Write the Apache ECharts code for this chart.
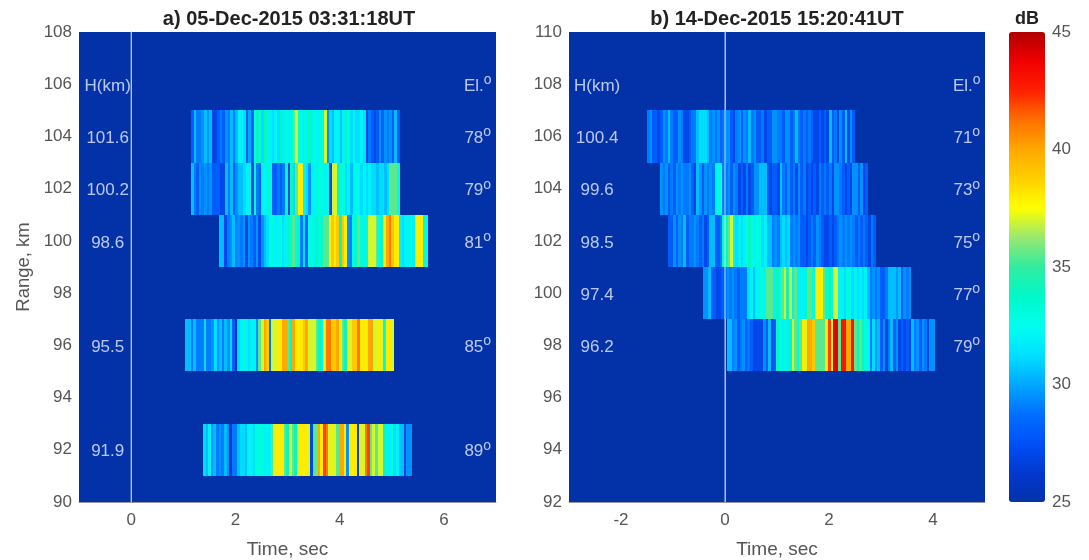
<!DOCTYPE html>
<html>
<head>
<meta charset="utf-8">
<style>html,body{margin:0;padding:0;background:#fff}#c{width:1089px;height:560px;filter:blur(0.5px)}</style>
<script src="https://cdn.jsdelivr.net/npm/echarts@6/dist/echarts.min.js"></script>
</head>
<body>
<div id="c"></div>
<script>
const titles = ['a) 05-Dec-2015 03:31:18UT', 'b) 14-Dec-2015 15:20:41UT'];
const timeTicksA = [0, 2, 4, 6];
const timeTicksB = [-2, 0, 2, 4];
const dbTicks = [25, 30, 35, 40, 45];

const a104 = [28,30.5,29,29,29.5,30.5,29.5,30.5,27,27, 28,29,28,29.5,29,30.5,29,30.5,32,32, 31.2,28,30,28,33,34,33,31.2,34,32, 32,31.2,32,31.2,34,32,33,32,33,35.5, 37,33,32,33,32,34,32,33,32,33, 33,37,29.5,31.2,30.5,32,32,30.5,32,34, 33,31.2,32,31.2,31.2,32,31.2,27,29,28, 27,28,29.5,28,29.5,29,29.5,28,30.5,28];
const a102 = [30.5,29,28,29.5,29,29.5,29,29.5,28,28, 28,27,27,30.5,29,30.5,28,29.5,30.5,30.5, 31.2,32,32,27,34,29,28,32,32,34, 32,28,28,29,28,29,34,27,34,31.2, 35.5,38,38,32,31.2,29.5,32,32,33,33, 33,32,33,27,37,37,34,33,33,31.2, 32,30.5,32,33,32,31.2,32,31.2,32,31.2, 31.2,30.5,31.2,31.2,30.5,31.2,35.5,35.5,35.5,33];
const a100 = [30.5,30.5,27,29,29.5,30.5,29,29.5,29,29.5, 27,29.5,29,28,29.5,27,29.5,30.5,31.2,33, 33,32,32,33,31.2,32,34,33,35.5,33, 34,29,31.2,28,33,33,32,34,33,34, 35.5,35.5,38,39,38,39,34,39,38,29.5, 29,33,34,35.5,33,32,33,37,37,37, 35.5,33,34,38,40,41,39,38,38,32, 31.2,32,32,33,32,38,38,38,33,33];
const a96 = [30.5,30.5,29,30.5,29,29,29,31.2,29,29, 29.5,31.2,29.5,30.5,29,30.5,29.5,31.2,28,26, 31.2,32,33,32,31.2,32,32,29.5,35.5,37, 40,39,29,37,37,38,38,40,40,35.5, 34,40,38,38,38,39,40,37,37,37, 35.5,34,32,38,41,41,39,39,40,38, 35.5,34,38,37,39,39,41,38,38,38, 40,40,37,37,38,37,33,38,38,37];
const a92 = [31.2,30.5,32,29.5,30.5,29,29.5,29,30.5,29.5, 26,29,29,30.5,31.2,31.2,30.5,32,32,31.2, 33,33,33,32,32,32,35.5,37,38,38, 38,35.5,34,37,35.5,34,37,38,38,38, 37,27,35.5,35.5,40,38,42,41,37,38, 37,35.5,40,40,38,29.5,38,38,38,27, 38,37,41,42,35.5,37,35.5,37,37,34, 32,32,33,31.2,32,30.5,30.5,27,29.5,29.5];

const b106 = [29,29.5,28,28,27,28,29.5,29,30.5,29, 28,28,29.5,29,27,27,28,29,29,30.5, 31.2,31.2,31.2,30.5,29,29.5,29,29.5,28,29, 29.5,29.5,28,27,29,29.5,28,29.5,29,30.5, 29,29.5,28,28,29,27,28,28,29.5,29.5, 29,29,28,29.5,29.5,28,29,30.5,29,28, 29,28,29,28,27,27,28,27,28,27, 30.5,28,29,27,29.5,28,30.5,27,29.5,28];
const b104 = [29.5,29,29.5,28,29,28,29.5,29,29.5,29, 29,29.5,28,27,30.5,29.5,28,29.5,29,29.5, 29,32,33,33,29,29,29.5,28,29.5,29, 27,28,27,29,27,28,29.5,29.5,30.5,30.5, 30.5,28,27,28,28,27,30.5,29,28,29.5, 28,29,27,29.5,28,29,27,28,27,28, 27,29,28,29,28,29,27,29.5,29.5,29, 28,27,28,27,29.5,29.5,28,29.5,27,28];
const b102 = [28,28,29.5,28,29.5,29,30.5,28,29,29, 29.5,29,28,29,27,28,30.5,30.5,28,28, 29,34,34,35.5,37,32,31.2,32,31.2,32, 33,34,33,32,33,33,31.2,32,30.5,30.5, 29,29.5,29,30.5,31.2,30.5,31.2,29,29.5,29, 29.5,28,28,27,28,29,28,29.5,29,28, 27,27,28,27,28,29,29.5,29,29.5,29, 29.5,29,28,29,28,29,28,27,29,28];
const b100 = [29.5,29.5,30.5,28,28,27,27,28,29,29.5, 29,29.5,29,28,29,29,29,31.2,32,30.5, 32,32,33,32,35.5,35.5,35.5,32,34,33, 35.5,37,34,37,32,35.5,32,32,32,34, 35.5,35.5,33,38,38,38,35.5,33,34,33, 37,37,32,32,31.2,33,32,31.2,32,31.2, 32,31.2,32,30.5,29,29.5,29,29.5,28,28, 29,30.5,30.5,30.5,29.5,30.5,28,29.5,29,29.5];
const b98 = [30.5,30.5,29,29.5,28,29,29.5,28,29,28, 27,27,27,27,29.5,28,30.5,27,28,34, 33,32,33,32,34,37,35.5,33,35.5,38, 37,40,40,39,35.5,35.5,35.5,35.5,38,42, 37,44,44,35.5,43,43,40,40,43,35.5, 34,35.5,34,33,32,29,31.2,29.5,30.5,28, 29.5,27,29,30.5,28,29.5,27,28,27,28, 27,30.5,29,29.5,28,29.5,29,27,29.5,29.5];

const rowsA = [a104, a102, a100, a96, a92];
const rangesA = [104, 102, 100, 96, 92];
const startsA = [1.15, 1.15, 1.69, 1.04, 1.38];
const heightsA = ['101.6', '100.2', '98.6', '95.5', '91.9'];
const elevA = ['78', '79', '81', '85', '89'];

const rowsB = [b106, b104, b102, b100, b98];
const rangesB = [106, 104, 102, 100, 98];
const startsB = [-1.5, -1.25, -1.1, -0.42, 0.03];
const heightsB = ['100.4', '99.6', '98.5', '97.4', '96.2'];
const elevB = ['71', '73', '75', '77', '79'];

const colormap = ['#0332a8','#0238d0','#0050f8','#0070ff','#00a8ff','#00e0ff','#00ffee','#00f8c8','#30eca0','#98e870','#ffff00','#ffd000','#ffa800','#ff7000','#ff2000','#f00000','#b00000'];

const rowSeconds = 4;
const rowHalfHeight = 1;
const gray = '#555';
const fontFamily = '"Liberation Sans", Arial, sans-serif';

function stripes(rows, ranges, starts) {
  const out = [];
  rows.forEach((vals, i) => {
    const dt = rowSeconds / vals.length;
    vals.forEach((v, k) => {
      out.push([starts[i] + k * dt, ranges[i], v, starts[i] + (k + 1) * dt]);
    });
  });
  return out;
}
function renderStripe(params, api) {
  const p0 = api.coord([api.value(0), api.value(1) + rowHalfHeight]);
  const p1 = api.coord([api.value(3), api.value(1) - rowHalfHeight]);
  const x0 = Math.round(p0[0]), x1 = Math.round(p1[0]);
  return {
    type: 'rect',
    shape: { x: x0, y: Math.round(p0[1]), width: Math.max(1, x1 - x0), height: Math.round(p1[1]) - Math.round(p0[1]) },
    style: { fill: api.visual('color') }
  };
}
function textSeries(idx, name, xH, xE, yHead, heights, elevs, ranges) {
  const data = [];
  data.push({ value: [xH, yHead], label: { formatter: 'H(km)' } });
  data.push({ value: [xE, yHead], label: { formatter: 'El.{s|o}' } });
  heights.forEach((h, i) => {
    data.push({ value: [xH, ranges[i]], label: { formatter: h } });
    data.push({ value: [xE, ranges[i]], label: { formatter: elevs[i] + '{s|o}' } });
  });
  return {
    type: 'scatter', name, xAxisIndex: idx, yAxisIndex: idx, symbolSize: 0, silent: true, z: 5,
    data,
    label: {
      show: true, position: 'inside', offset: [0, 2], color: '#e8eefc', fontSize: 17, fontFamily,
      rich: { s: { fontSize: 14, color: '#e8eefc', fontFamily, padding: [0, 0, 12, 0] } }
    }
  };
}
function zeroLine(idx, lo, hi) {
  return {
    type: 'line', xAxisIndex: idx, yAxisIndex: idx, symbol: 'none', silent: true, z: 4,
    data: [[0, lo], [0, hi]], lineStyle: { color: 'rgba(225,235,255,0.8)', width: 1 }
  };
}
const axisText = { color: gray, fontSize: 17, fontFamily };
function xAxis(idx, min, max, ticks) {
  return {
    type: 'value', gridIndex: idx, min, max, splitLine: { show: false },
    axisLine: { show: true, lineStyle: { color: '#999' } }, axisTick: { show: false },
    axisLabel: Object.assign({ margin: 10, customValues: ticks }, axisText),
    name: 'Time, sec', nameLocation: 'middle', nameGap: 38,
    nameTextStyle: { color: gray, fontSize: 19, fontFamily }
  };
}
function yAxis(idx, min, max, name) {
  return {
    type: 'value', gridIndex: idx, min, max, interval: 2, splitLine: { show: false },
    axisLine: { show: true, lineStyle: { color: '#999' } }, axisTick: { show: false },
    axisLabel: Object.assign({ margin: 7, padding: [2, 0, 0, 0] }, axisText),
    name, nameLocation: 'middle', nameGap: 46,
    nameTextStyle: { color: gray, fontSize: 18.5, fontFamily }
  };
}
const titleStyle = { fontSize: 20, fontWeight: 'bold', color: '#222', fontFamily };

const chart = echarts.init(document.getElementById('c'), null, { renderer: 'canvas' });
chart.setOption({
  animation: false,
  backgroundColor: '#fff',
  title: [
    { text: titles[0], left: 289, top: 9, padding: 0, textAlign: 'center', textStyle: titleStyle },
    { text: titles[1], left: 777, top: 9, padding: 0, textAlign: 'center', textStyle: titleStyle },
    { text: 'dB', left: 1027, top: 10, padding: 0, textAlign: 'center', textStyle: Object.assign({}, titleStyle, { fontSize: 18 }) }
  ],
  grid: [
    { left: 79, top: 32, width: 417, height: 470, show: true, backgroundColor: colormap[0], borderWidth: 0, outerBoundsMode: 'none' },
    { left: 569, top: 32, width: 416, height: 470, show: true, backgroundColor: colormap[0], borderWidth: 0, outerBoundsMode: 'none' },
    { left: 1009, top: 32, width: 36, height: 470, show: false, outerBoundsMode: 'none' }
  ],
  xAxis: [
    xAxis(0, -1, 7, timeTicksA),
    xAxis(1, -3, 5, timeTicksB),
    { type: 'value', gridIndex: 2, min: 0, max: 1, show: false }
  ],
  yAxis: [
    yAxis(0, 90, 108, 'Range, km'),
    yAxis(1, 92, 110, ''),
    {
      type: 'value', gridIndex: 2, min: dbTicks[0], max: dbTicks[dbTicks.length - 1], interval: 5, position: 'right',
      splitLine: { show: false }, axisLine: { show: false }, axisTick: { show: false },
      axisLabel: Object.assign({ margin: 7, padding: [2, 0, 0, 0] }, axisText)
    }
  ],
  visualMap: {
    type: 'continuous', min: 25, max: 45, dimension: 2, seriesIndex: [0, 1],
    inRange: { color: colormap }, calculable: false, realtime: false, hoverLink: false,
    text: null, showLabel: false, orient: 'vertical',
    left: 1009, top: 32, itemWidth: 36, itemHeight: 470, padding: 0
  },
  series: [
    { type: 'custom', xAxisIndex: 0, yAxisIndex: 0, silent: true, clip: true, progressive: 0, renderItem: renderStripe, encode: { x: [0, 3], y: 1 }, data: stripes(rowsA, rangesA, startsA) },
    { type: 'custom', xAxisIndex: 1, yAxisIndex: 1, silent: true, clip: true, progressive: 0, renderItem: renderStripe, encode: { x: [0, 3], y: 1 }, data: stripes(rowsB, rangesB, startsB) },
    zeroLine(0, 90, 108),
    zeroLine(1, 92, 110),
    textSeries(0, 'labelsA', -0.45, 6.65, 106, heightsA, elevA, rangesA),
    textSeries(1, 'labelsB', -2.46, 4.65, 108, heightsB, elevB, rangesB)
  ]
});
</script>
</body>
</html>
